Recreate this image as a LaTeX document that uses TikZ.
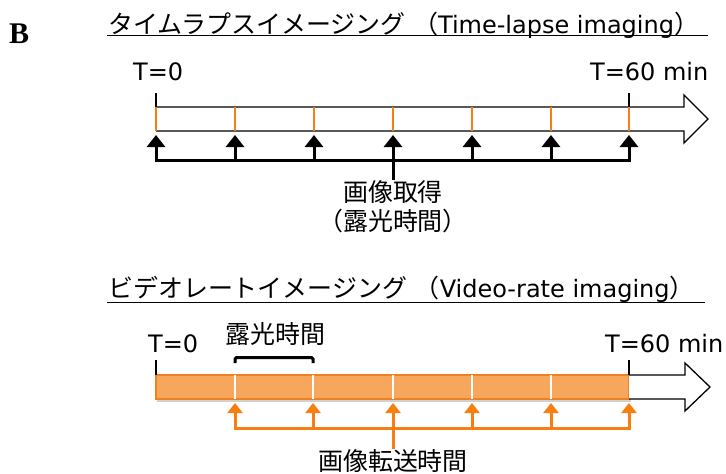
\documentclass[tikz,border=0pt]{standalone}
\usepackage{fontspec}
\setmainfont{DejaVu Sans}
\newfontfamily\jp[Scale=1.04]{Noto Sans CJK JP}
\newfontfamily\serifb{Liberation Serif}
\usetikzlibrary{arrows.meta}
\definecolor{tickor}{RGB}{247,127,17}
\definecolor{barfill}{RGB}{246,167,92}
\definecolor{barline}{RGB}{243,128,30}
\tikzset{
  txt/.style={inner sep=0pt, font=\fontsize{24}{28}\selectfont},
  ttl/.style={txt, anchor=base west},
  shaft/.style={draw=black, line width=1.3pt, fill=white, line join=miter},
  blktick/.style={draw=black, line width=1.3pt},
  ortick/.style={draw=tickor, line width=2pt},
  blkarrow/.style={draw=black, line width=3pt, -{Triangle[width=18pt,length=12pt]}},
  orarrow/.style={draw=tickor, line width=3pt, -{Triangle[width=15pt,length=10pt]}},
  blkline/.style={draw=black, line width=3pt, line cap=rect},
  orline/.style={draw=tickor, line width=3pt, line cap=rect},
}
\begin{document}
\begin{tikzpicture}[x=1pt,y=-1pt]
\useasboundingbox (0,0) rectangle (726,474);

% label B
\node[anchor=base west, inner sep=0pt, font=\serifb\bfseries\fontsize{30}{32}\selectfont] (B) at (9,43) {B};

% ---------- Time-lapse ----------
\node[ttl] (title1) at (108,33) {{\jp タイムラプスイメージング} {\jp （}Time-lapse imaging{\jp ）}};
\draw[line width=1.5pt] (107,35.5) -- (708,35.5);

\node[ttl] (t0a) at (133,80) {T=0};
\node[ttl] (t60a) at (590,80) {T=60 min};

\draw[shaft] (156,107) -- (684,107) -- (684,95) -- (708,119) -- (684,143) -- (684,131) -- (156,131);

\foreach \i/\x in {0/156,1/235,2/314,3/393,4/472,5/551,6/629}{
  \coordinate (ua\i) at (\x,107);
  \coordinate (ub\i) at (\x,131);
  \coordinate (tip\i) at (\x,135);
  \coordinate (br\i) at (\x,160);
}
\foreach \i in {0,...,6}{ \draw[ortick] (ua\i) -- (ub\i); }
\draw[blktick] (156,93) -- (ua0);
\draw[blktick] (629,93) -- (ua6);

\foreach \i in {0,...,6}{ \draw[blkarrow] (br\i) -- (tip\i); }
\draw[blkline] (br0) -- (br6);
\node[txt, anchor=base] (acq) at (393,201) {\jp 画像取得};
\node[txt, anchor=base] (acq2) at (393,230) {\jp （露光時間）};
\draw[blkline, line cap=butt] (br3) -- (acq.north);

% ---------- Video-rate ----------
\node[ttl] (title2) at (108,297) {{\jp ビデオレートイメージング} {\jp （}Video-rate imaging{\jp ）}};
\draw[line width=1.5pt] (107,302.5) -- (705,302.5);

\node[ttl] (t0b) at (148,352) {T=0};
\node[ttl] (t60b) at (605,352) {T=60 min};
\node[txt, anchor=base] (expo) at (275.5,343) {\jp 露光時間};

\fill[black, opacity=0.18] (157,399) rectangle (631,402);
\draw[draw=barline, line width=1.2pt, fill=barfill] (156,375) rectangle (629,399);
\draw[shaft] (629,375) -- (685,375) -- (685,363) -- (710,387) -- (685,411) -- (685,399) -- (629,399);

\foreach \i/\x in {1/235,2/313,3/393,4/472,5/551,6/629}{
  \coordinate (va\i) at (\x,375);
  \coordinate (vb\i) at (\x,399);
  \coordinate (vtip\i) at (\x,403);
  \coordinate (vbr\i) at (\x,428);
}
\foreach \i in {1,...,5}{ \draw[white, line width=1.5pt] (va\i) -- (vb\i); }
\draw[blktick] (156,360) -- (156,375);
\draw[blktick] (629,360) -- (629,375);

\draw[line width=3pt, rounded corners=1.5pt] (235,363) -- (235,357.5) -- (313,357.5) -- (313,363);

\foreach \i in {1,...,6}{ \draw[orarrow] (vbr\i) -- (vtip\i); }
\draw[orline] (vbr1) -- (vbr6);
\node[txt, anchor=base] (xfer) at (393,470) {\jp 画像転送時間};
\draw[orline, line cap=butt] (vbr3) -- (xfer.north);
\end{tikzpicture}
\end{document}
